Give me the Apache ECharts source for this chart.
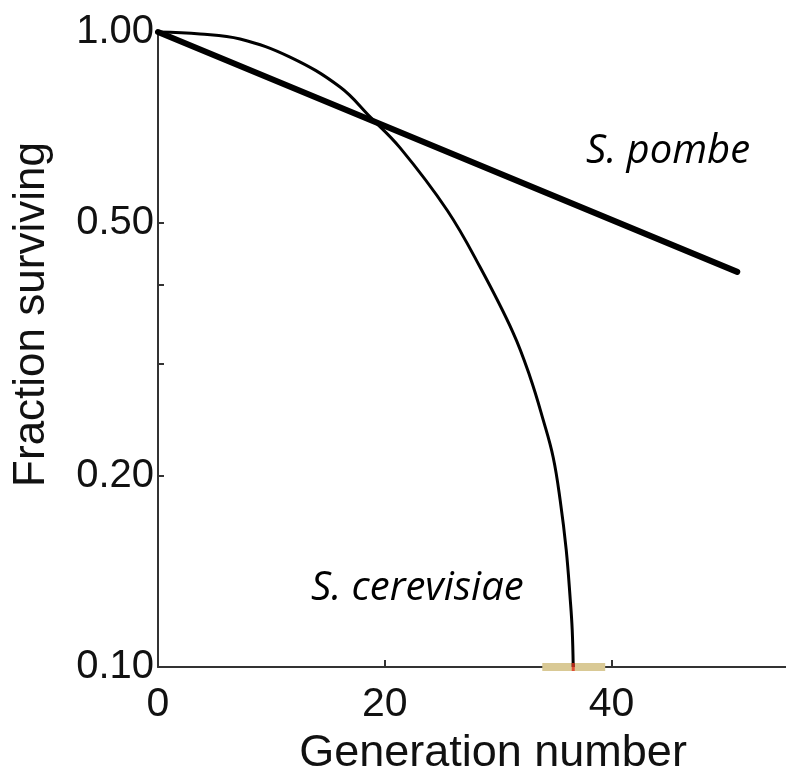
<!DOCTYPE html>
<html>
<head>
<meta charset="utf-8">
<script src="https://cdn.jsdelivr.net/npm/echarts@6/dist/echarts.min.js"></script>
<style>html,body{margin:0;padding:0;background:#fff}#c{width:786px;height:770px}</style>
</head>
<body>
<div id="c"></div>
<script>
// Data
const xTicks = [0, 20, 40];
const yLabelValues = [0.1, 0.2, 0.5, 1.0];
const yTickValues = [0.1, 0.2, 0.3, 0.4, 0.5, 1.0];
const pombeX = [0, 51.1];
const pombeY = [1.0, 0.419];
const cerevisiaeX = [0, 3.71, 7.24, 11.65, 16.06, 18.71, 21.36, 25.51, 28.42, 31.33, 32.83, 33.98, 34.86, 35.48, 36.01, 36.37, 36.54, 36.63];
const cerevisiaeY = [1.0, 0.993, 0.975, 0.913, 0.819, 0.735, 0.657, 0.524, 0.426, 0.336, 0.286, 0.245, 0.214, 0.183, 0.153, 0.1275, 0.1144, 0.1];
const rangeX = [33.9, 39.45];
const rangeY = [0.1, 0.1];
const meanX = [36.63];
const meanY = [0.1];

const zip = (a, b) => a.map((v, i) => [v, b[i]]);

const chart = echarts.init(document.getElementById('c'));
chart.setOption({
  animation: false,
  grid: { left: 158, right: 0, top: 32, bottom: 103, containLabel: false, outerBoundsMode: 'none' },
  xAxis: {
    type: 'value', min: 0, max: 55.4, interval: 20,
    axisLine: { show: true, lineStyle: { color: '#333', width: 2 } },
    axisTick: { show: true, inside: true, length: 7, customValues: xTicks, lineStyle: { color: '#333', width: 2 } },
    axisLabel: { color: '#111', fontFamily: 'Liberation Sans', fontSize: 41, margin: 17,
      customValues: xTicks, formatter: v => String(v) },
    splitLine: { show: false },
    name: 'Generation number', nameLocation: 'middle', nameGap: 64,
    nameTextStyle: { color: '#111', fontFamily: 'Liberation Sans', fontSize: 45, padding: [0, 0, 0, 42] }
  },
  yAxis: {
    type: 'log', logBase: 10, min: 0.1, max: 1,
    axisLine: { show: true, lineStyle: { color: '#333', width: 2 } },
    axisTick: { show: true, inside: true, length: 6, customValues: yTickValues, lineStyle: { color: '#333', width: 2 } },
    axisLabel: { color: '#111', fontFamily: 'Liberation Sans', fontSize: 40, margin: 4,
      customValues: yLabelValues, formatter: v => Number(v).toFixed(2) },
    splitLine: { show: false },
    minorTick: { show: false },
    name: 'Fraction surviving', nameLocation: 'middle', nameGap: 104,
    nameTextStyle: { color: '#111', fontFamily: 'Liberation Sans', fontSize: 44, padding: [0, 0, 0, 70] }
  },
  series: [
    { type: 'line', name: 'range', data: zip(rangeX, rangeY), symbol: 'none', clip: false, z: 1,
      lineStyle: { color: '#d9c995', width: 8, cap: 'butt' } },
    { type: 'line', name: 'S. pombe', data: zip(pombeX, pombeY), symbol: 'none', clip: false,
      lineStyle: { color: '#000', width: 6, cap: 'round' } },
    { type: 'line', name: 'S. cerevisiae', data: zip(cerevisiaeX, cerevisiaeY), symbol: 'none',
      smooth: 0.4, clip: false,
      lineStyle: { color: '#000', width: 3 } },
    { type: 'scatter', name: 'mean', data: zip(meanX, meanY), symbol: 'rect', symbolSize: [3, 8], clip: false,
      itemStyle: { color: '#e0301e' }, z: 5 }
  ],
  graphic: [
    { type: 'text', left: 586, top: 132, style: { text: 'S. pombe', fontFamily: 'Open Sans', fontStyle: 'italic', fontSize: 40, fill: '#000' } },
    { type: 'text', left: 311, top: 569, style: { text: 'S. cerevisiae', fontFamily: 'Open Sans', fontStyle: 'italic', fontSize: 40, fill: '#000' } }
  ]
});
</script>
</body>
</html>
